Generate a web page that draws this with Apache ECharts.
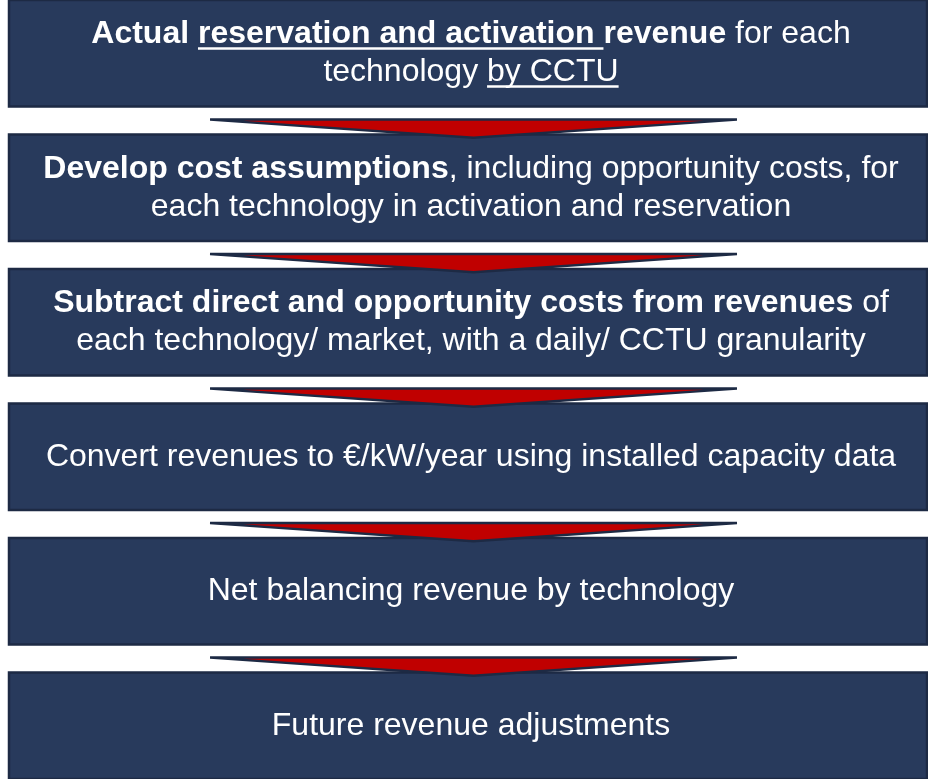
<!DOCTYPE html>
<html>
<head>
<meta charset="utf-8">
<script src="https://cdn.jsdelivr.net/npm/echarts@6/dist/echarts.min.js"></script>
<style>
  html, body { margin: 0; padding: 0; background: #fff; }
  #chart { width: 928px; height: 779px; }
</style>
</head>
<body>
<div id="chart"></div>
<script>
  // ** toggles bold, __ toggles underline, \n breaks the line
  var steps = [
    '**Actual __reservation and activation __revenue** for each\ntechnology __by CCTU__',
    '**Develop cost assumptions**, including opportunity costs, for\neach technology in activation and reservation',
    '**Subtract direct and opportunity costs from revenues** of\neach technology/ market, with a daily/ CCTU granularity',
    'Convert revenues to €/kW/year using installed capacity data',
    'Net balancing revenue by technology',
    'Future revenue adjustments'
  ]
  var stepIds = ['s1', 's2', 's3', 's4', 's5', 's6']
  // arrows go from step i to step i + 1
  var links = [0, 1, 2, 3, 4]

  var FONT_SIZE = 32
  var LINE_H = 38
  var FAMILY = '"Liberation Sans", Arial, sans-serif'
  var ctx = document.createElement('canvas').getContext('2d')

  function fontOf(bold) {
    return (bold ? 'bold ' : '') + FONT_SIZE + 'px ' + FAMILY
  }

  function parse(str) {
    var bold = false, under = false
    return str.split('\n').map(function (line) {
      var segs = []
      line.split(/(\*\*|__)/).forEach(function (part) {
        if (part === '**') { bold = !bold; return }
        if (part === '__') { under = !under; return }
        if (!part) return
        ctx.font = fontOf(bold)
        segs.push({ text: part, bold: bold, under: under, w: ctx.measureText(part).width })
      })
      return segs
    })
  }

  function boxOf(i, api) {
    var l = api.coord([0, i])
    var r = api.coord([1, i])
    var h = api.size([0, 1])[1] * 0.79
    return { x0: l[0], x1: r[0], top: l[1] - h / 2, h: h, cy: l[1] }
  }

  function renderStep(params, api) {
    var i = api.value(1)
    var b = boxOf(i, api)
    var children = [{
      type: 'rect',
      shape: { x: b.x0, y: b.top, width: b.x1 - b.x0, height: b.h },
      style: { fill: '#283a5c', stroke: '#1d2a44', lineWidth: 2.5 }
    }]
    var lines = parse(steps[i])
    var y = b.cy - (lines.length - 1) * LINE_H / 2
    lines.forEach(function (segs) {
      var total = segs.reduce(function (s, g) { return s + g.w }, 0)
      var x = (b.x0 + b.x1) / 2 - total / 2 + 3
      segs.forEach(function (g) {
        children.push({
          type: 'text',
          style: { text: g.text, x: x, y: y, font: fontOf(g.bold), fill: '#fff', align: 'left', verticalAlign: 'middle' }
        })
        if (g.under) {
          children.push({
            type: 'rect',
            shape: { x: x, y: y + 13, width: g.w, height: 2.5 },
            style: { fill: '#fff' }
          })
        }
        x += g.w
      })
      y += LINE_H
    })
    return { type: 'group', children: children }
  }

  function renderArrow(params, api) {
    var i = api.value(1)
    var next = boxOf(i + 1, api)
    var w = next.x1 - next.x0
    var top = next.top - 15
    var tip = next.top + 3
    return {
      type: 'polygon',
      shape: {
        points: [
          [next.x0 + w * 0.219, top],
          [next.x0 + w * 0.793, top],
          [next.x0 + w * 0.506, tip]
        ]
      },
      style: { fill: '#c00000', stroke: '#1d2a44', lineWidth: 2.5 }
    }
  }

  var chart = echarts.init(document.getElementById('chart'))
  chart.setOption({
    animation: false,
    grid: { left: 9, right: 1, top: -14, height: 807, outerBoundsMode: 'none', containLabel: false },
    xAxis: { type: 'value', min: 0, max: 1, show: false },
    yAxis: { type: 'category', data: stepIds, inverse: true, show: false },
    series: [{
      type: 'custom',
      renderItem: renderStep,
      clip: false,
      encode: { x: 0, y: 1 },
      data: stepIds.map(function (id, i) { return [0, i] }),
      z: 1
    }, {
      type: 'custom',
      renderItem: renderArrow,
      clip: false,
      encode: { x: 0, y: 1 },
      data: links.map(function (i) { return [0, i] }),
      z: 2
    }]
  })
</script>
</body>
</html>
